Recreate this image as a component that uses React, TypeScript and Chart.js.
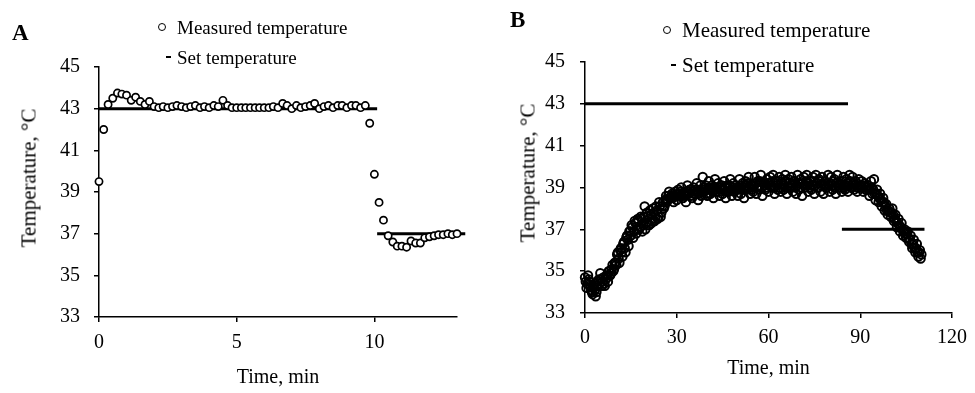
import React, { useEffect, useRef } from "react";
import { Chart, registerables } from "chart.js";

Chart.register(...registerables);

const FONT = '"Liberation Serif", "Times New Roman", Times, serif';

// ---------- Panel A ----------
const timeA: number[] = [
  0, 0.17, 0.33, 0.5, 0.67, 0.83,
  1, 1.17, 1.33, 1.5, 1.67, 1.83,
  2, 2.17, 2.33, 2.5, 2.67, 2.83,
  3, 3.17, 3.33, 3.5, 3.67, 3.83,
  4, 4.17, 4.33, 4.5, 4.67, 4.83,
  5, 5.17, 5.33, 5.5, 5.67, 5.83,
  6, 6.17, 6.33, 6.5, 6.67, 6.83,
  7, 7.17, 7.33, 7.5, 7.67, 7.83,
  8, 8.17, 8.33, 8.5, 8.67, 8.83,
  9, 9.17, 9.33, 9.5, 9.67, 9.83,
  10, 10.17, 10.33, 10.5, 10.67, 10.83,
  11, 11.17, 11.33, 11.5, 11.67, 11.83,
  12, 12.17, 12.33, 12.5, 12.67, 12.83,
  13,
];
const measuredA: number[] = [
  39.5, 42.0, 43.2, 43.5, 43.75, 43.7,
  43.65, 43.4, 43.55, 43.35, 43.2, 43.35,
  43.1, 43.05, 43.1, 43.05, 43.1, 43.15,
  43.1, 43.05, 43.1, 43.15, 43.05, 43.1,
  43.05, 43.15, 43.1, 43.4, 43.15, 43.05,
  43.05, 43.05, 43.05, 43.05, 43.05, 43.05,
  43.05, 43.05, 43.1, 43.05, 43.25, 43.15,
  43.0, 43.15, 43.05, 43.1, 43.15, 43.25,
  43.0, 43.1, 43.15, 43.05, 43.15, 43.15,
  43.05, 43.15, 43.15, 43.05, 43.15, 42.3,
  39.85, 38.5, 37.65, 36.9, 36.6, 36.4,
  36.4, 36.35, 36.65, 36.55, 36.55, 36.8,
  36.85, 36.9, 36.95, 36.95, 37.0, 36.95,
  37.0,
];
const setHighTimeA: number[] = [0, 10.1];
const setHighTempA = 43;
const setLowTimeA: number[] = [10.1, 13.3];
const setLowTempA = 37;

// ---------- Panel B ----------
const timeB: number[] = [
  0, 0.5, 1, 1.5, 2, 2.5, 3, 3.5, 4, 4.5,
  5, 5.5, 6, 6.5, 7, 7.5, 8, 8.5, 9, 9.5,
  10, 10.5, 11, 11.5, 12, 12.5, 13, 13.5, 14, 14.5,
  15, 15.5, 16, 16.5, 17, 17.5, 18, 18.5, 19, 19.5,
  20, 20.5, 21, 21.5, 22, 22.5, 23, 23.5, 24, 24.5,
  25, 25.5, 26, 26.5, 27, 27.5, 28, 28.5, 29, 29.5,
  30, 30.5, 31, 31.5, 32, 32.5, 33, 33.5, 34, 34.5,
  35, 35.5, 36, 36.5, 37, 37.5, 38, 38.5, 39, 39.5,
  40, 40.5, 41, 41.5, 42, 42.5, 43, 43.5, 44, 44.5,
  45, 45.5, 46, 46.5, 47, 47.5, 48, 48.5, 49, 49.5,
  50, 50.5, 51, 51.5, 52, 52.5, 53, 53.5, 54, 54.5,
  55, 55.5, 56, 56.5, 57, 57.5, 58, 58.5, 59, 59.5,
  60, 60.5, 61, 61.5, 62, 62.5, 63, 63.5, 64, 64.5,
  65, 65.5, 66, 66.5, 67, 67.5, 68, 68.5, 69, 69.5,
  70, 70.5, 71, 71.5, 72, 72.5, 73, 73.5, 74, 74.5,
  75, 75.5, 76, 76.5, 77, 77.5, 78, 78.5, 79, 79.5,
  80, 80.5, 81, 81.5, 82, 82.5, 83, 83.5, 84, 84.5,
  85, 85.5, 86, 86.5, 87, 87.5, 88, 88.5, 89, 89.5,
  90, 90.5, 91, 91.5, 92, 92.5, 93, 93.5, 94, 94.5,
  95, 95.5, 96, 96.5, 97, 97.5, 98, 98.5, 99, 99.5,
  100, 100.5, 101, 101.5, 102, 102.5, 103, 103.5, 104, 104.5,
  105, 105.5, 106, 106.5, 107, 107.5, 108, 108.5, 109, 109.5,
  110,
];
const measuredB: number[] = [
  34.7, 34.2, 34.8, 34.5, 34.1, 33.9, 34.4, 33.8, 34.3, 34.6,
  34.9, 34.3, 34.7, 34.3, 34.8, 34.5, 35.0, 34.9, 35.3, 35.1,
  35.4, 35.8, 35.6, 36.0, 35.9, 36.3, 36.1, 36.6, 36.5, 36.9,
  36.7, 37.1, 36.9, 37.3, 37.0, 37.4, 37.1, 37.5, 37.2, 38.1,
  37.3, 37.6, 37.2, 37.7, 37.4, 37.8, 37.5, 37.9, 37.6, 38.1,
  37.8, 38.3, 38.1, 38.6, 38.4, 38.8, 38.5, 38.7, 38.3, 38.8,
  38.4, 38.9, 38.6, 39.0, 38.5, 38.8, 38.3, 39.1, 38.7, 38.9,
  38.5, 39.0, 38.7, 39.2, 38.4, 38.9, 38.6, 39.5, 38.8, 39.1,
  38.6, 39.3, 38.7, 39.1, 38.5, 39.4, 38.8, 39.2, 38.6, 39.0,
  38.7, 39.3, 38.5, 39.1, 38.8, 39.4, 38.6, 39.2, 38.9, 39.0,
  38.6, 39.4, 38.7, 39.2, 38.5, 39.3, 38.9, 39.5, 38.7, 39.1,
  38.8, 39.5, 38.7, 39.3, 38.9, 39.6, 38.6, 39.2, 38.9, 39.4,
  38.8, 39.5, 39.0, 39.6, 38.7, 39.3, 38.9, 39.5, 38.8, 39.4,
  38.9, 39.6, 38.7, 39.4, 39.0, 39.5, 38.8, 39.3, 38.7, 39.6,
  38.9, 39.4, 38.6, 39.5, 39.0, 39.6, 38.8, 39.3, 38.9, 39.5,
  38.7, 39.6, 39.0, 39.4, 38.8, 39.5, 38.7, 39.3, 39.0, 39.6,
  38.8, 39.5, 38.9, 39.4, 38.7, 39.6, 39.0, 39.3, 38.8, 39.5,
  38.9, 39.4, 38.8, 39.6, 39.0, 39.5, 38.9, 39.3, 38.8, 39.4,
  39.0, 39.3, 38.8, 39.2, 38.9, 39.1, 38.6, 39.3, 38.7, 39.4,
  38.4, 38.9, 38.3, 38.7, 38.1, 38.5, 37.9, 38.2, 37.7, 38.0,
  37.6, 38.0, 37.4, 37.7, 37.1, 37.5, 36.9, 37.3, 36.7, 37.0,
  36.6, 36.9, 36.4, 36.7, 36.1, 36.5, 35.9, 36.3, 35.7, 36.0,
  35.8,
];
// readings taken in between the ones above
const timeB2: number[] = [
  0.25, 0.75, 1.25, 1.75, 2.25, 2.75, 3.25, 3.75, 4.25, 4.75,
  5.25, 5.75, 6.25, 6.75, 7.25, 7.75, 8.25, 8.75, 9.25, 9.75,
  10.25, 10.75, 11.25, 11.75, 12.25, 12.75, 13.25, 13.75, 14.25, 14.75,
  15.25, 15.75, 16.25, 16.75, 17.25, 17.75, 18.25, 18.75, 19.25, 19.75,
  20.25, 20.75, 21.25, 21.75, 22.25, 22.75, 23.25, 23.75, 24.25, 24.75,
  25.25, 25.75, 26.25, 26.75, 27.25, 27.75, 28.25, 28.75, 29.25, 29.75,
  30.25, 30.75, 31.25, 31.75, 32.25, 32.75, 33.25, 33.75, 34.25, 34.75,
  35.25, 35.75, 36.25, 36.75, 37.25, 37.75, 38.25, 38.75, 39.25, 39.75,
  40.25, 40.75, 41.25, 41.75, 42.25, 42.75, 43.25, 43.75, 44.25, 44.75,
  45.25, 45.75, 46.25, 46.75, 47.25, 47.75, 48.25, 48.75, 49.25, 49.75,
  50.25, 50.75, 51.25, 51.75, 52.25, 52.75, 53.25, 53.75, 54.25, 54.75,
  55.25, 55.75, 56.25, 56.75, 57.25, 57.75, 58.25, 58.75, 59.25, 59.75,
  60.25, 60.75, 61.25, 61.75, 62.25, 62.75, 63.25, 63.75, 64.25, 64.75,
  65.25, 65.75, 66.25, 66.75, 67.25, 67.75, 68.25, 68.75, 69.25, 69.75,
  70.25, 70.75, 71.25, 71.75, 72.25, 72.75, 73.25, 73.75, 74.25, 74.75,
  75.25, 75.75, 76.25, 76.75, 77.25, 77.75, 78.25, 78.75, 79.25, 79.75,
  80.25, 80.75, 81.25, 81.75, 82.25, 82.75, 83.25, 83.75, 84.25, 84.75,
  85.25, 85.75, 86.25, 86.75, 87.25, 87.75, 88.25, 88.75, 89.25, 89.75,
  90.25, 90.75, 91.25, 91.75, 92.25, 92.75, 93.25, 93.75, 94.25, 94.75,
  95.25, 95.75, 96.25, 96.75, 97.25, 97.75, 98.25, 98.75, 99.25, 99.75,
  100.25, 100.75, 101.25, 101.75, 102.25, 102.75, 103.25, 103.75, 104.25, 104.75,
  105.25, 105.75, 106.25, 106.75, 107.25, 107.75, 108.25, 108.75, 109.25, 109.75,
];
const measuredB2: number[] = [
  34.5, 34.4, 34.6, 34.3, 34.0, 34.2, 34.1, 34.0, 34.5, 34.4,
  34.6, 34.5, 34.4, 34.6, 34.7, 35.0, 34.8, 35.1, 35.0, 35.4,
  35.3, 35.9, 35.4, 36.1, 35.7, 36.4, 35.9, 36.7, 36.2, 36.9,
  37.2, 36.6, 37.4, 36.8, 37.5, 37.0, 37.6, 36.9, 37.6, 37.0,
  37.8, 37.2, 37.9, 37.3, 38.0, 37.4, 38.1, 37.5, 38.3, 37.6,
  38.1, 38.0, 38.4, 38.3, 38.6, 38.5, 38.6, 38.5, 38.6, 38.6,
  38.7, 38.7, 38.8, 38.6, 38.7, 38.6, 38.7, 38.8, 38.9, 38.6,
  38.8, 38.7, 38.9, 38.8, 38.7, 39.1, 38.8, 38.9, 39.0, 38.7,
  38.9, 39.0, 38.9, 38.8, 39.0, 38.9, 39.0, 38.8, 38.9, 39.1,
  38.9, 39.0, 38.8, 39.0, 39.1, 38.9, 39.0, 38.8, 39.1, 38.9,
  39.0, 38.9, 39.1, 39.0, 38.9, 39.1, 39.2, 39.0, 39.1, 38.9,
  39.1, 39.2, 39.0, 39.1, 39.3, 39.0, 39.2, 39.1, 39.0, 39.2,
  39.2, 39.1, 39.3, 39.0, 39.2, 39.1, 39.3, 39.0, 39.2, 39.1,
  39.1, 39.3, 39.0, 39.2, 39.1, 39.2, 39.3, 39.0, 39.1, 39.2,
  39.2, 39.0, 39.2, 39.1, 39.3, 39.1, 39.2, 39.0, 39.1, 39.3,
  39.1, 39.2, 39.0, 39.3, 39.1, 39.2, 39.1, 39.0, 39.2, 39.1,
  39.2, 39.1, 39.3, 39.0, 39.2, 39.1, 39.2, 39.1, 39.3, 39.0,
  39.1, 39.2, 39.1, 39.3, 39.0, 39.2, 39.1, 39.2, 39.0, 39.1,
  39.1, 39.0, 39.1, 38.9, 39.0, 38.9, 38.9, 39.0, 38.9, 38.7,
  38.7, 38.6, 38.5, 38.4, 38.3, 38.3, 38.1, 37.9, 37.9, 37.8,
  37.8, 37.7, 37.5, 37.4, 37.3, 37.2, 37.1, 37.0, 36.9, 36.8,
  36.8, 36.6, 36.5, 36.3, 36.3, 36.1, 36.1, 35.9, 35.9, 35.6,
];
const setHighTimeB: number[] = [0, 86];
const setHighTempB = 43;
const setLowTimeB: number[] = [84, 111];
const setLowTempB = 37;

// ---------- Axis settings ----------
const yTicksTemp: number[] = [33, 35, 37, 39, 41, 43, 45];
const xTicksA: number[] = [0, 5, 10];
const xTicksB: number[] = [0, 30, 60, 90, 120];

const X_TITLE = "Time, min";
const Y_TITLE = "Temperature, \u00B0C";
const LEGEND_MEASURED = "Measured temperature";
const LEGEND_SET = "Set temperature";

type PanelOpts = {
  series: { times: number[]; values: number[] }[];
  highTimes: number[];
  highTemp: number;
  lowTimes: number[];
  lowTemp: number;
  xMax: number;
  xTicks: number[];
  yWidth: number;
  xHeight: number;
  padTop: number;
  padRight: number;
  yTickPad: number;
  xTickPad: number;
  xTitlePad: number;
  pointRadius: number;
  pointBorder: number;
  pointFill: string;
  fontSize: number;
};

function buildConfig(o: PanelOpts): any {
  const font = { family: FONT, size: o.fontSize };
  const lineDs = (times: number[], temp: number) => ({
    type: "line" as const,
    data: times.map((t) => ({ x: t, y: temp })),
    showLine: true,
    borderColor: "#000",
    borderWidth: 3,
    borderCapStyle: "butt",
    pointRadius: 0,
    fill: false,
    clip: false as any,
  });
  const pointDs = o.series.map((s) => ({
    data: s.times.map((t, i) => ({ x: t, y: s.values[i] })),
    showLine: false,
    pointStyle: "circle",
    pointRadius: o.pointRadius,
    pointBorderWidth: o.pointBorder,
    pointBorderColor: "#000",
    pointBackgroundColor: o.pointFill,
    clip: false as any,
  }));
  return {
    type: "scatter",
    data: {
      datasets: [...pointDs, lineDs(o.highTimes, o.highTemp), lineDs(o.lowTimes, o.lowTemp)],
    },
    options: {
      responsive: false,
      animation: false,
      events: [],
      layout: { padding: { top: o.padTop, right: o.padRight, left: 0, bottom: 0 } },
      plugins: { legend: { display: false }, tooltip: { enabled: false } },
      scales: {
        x: {
          type: "linear",
          min: 0,
          max: o.xMax,
          afterBuildTicks: (s: any) => {
            s.ticks = o.xTicks.map((v) => ({ value: v }));
          },
          ticks: { font, color: "#000", padding: o.xTickPad, maxRotation: 0, autoSkip: false },
          grid: {
            display: true,
            drawOnChartArea: false,
            drawTicks: true,
            tickLength: 5,
            color: "#000",
            lineWidth: 1.5,
          },
          border: { display: true, color: "#000", width: 1.5 },
          title: {
            display: true,
            text: X_TITLE,
            font,
            color: "#000",
            padding: { top: 0, bottom: o.xTitlePad },
          },
          afterFit: (s: any) => {
            s.height = o.xHeight;
          },
        },
        y: {
          type: "linear",
          min: 33,
          max: 45,
          afterBuildTicks: (s: any) => {
            s.ticks = yTicksTemp.map((v) => ({ value: v }));
          },
          ticks: { font, color: "#000", padding: o.yTickPad, autoSkip: false },
          grid: {
            display: true,
            drawOnChartArea: false,
            drawTicks: true,
            tickLength: 5,
            color: "#000",
            lineWidth: 1.5,
          },
          border: { display: true, color: "#000", width: 1.5 },
          title: { display: false },
          afterFit: (s: any) => {
            s.width = o.yWidth;
          },
        },
      },
    },
  };
}

function ChartCanvas({ config, width, height }: { config: any; width: number; height: number }) {
  const ref = useRef<HTMLCanvasElement>(null);
  useEffect(() => {
    const chart = new Chart(ref.current as HTMLCanvasElement, config);
    return () => chart.destroy();
  }, []);
  return <canvas ref={ref} width={width} height={height} style={{ display: "block", width, height }} />;
}

const abs = (s: React.CSSProperties): React.CSSProperties => ({ position: "absolute", ...s });

function Legend({ left, cy1, cy2, size }: { left: number; cy1: number; cy2: number; size: number }) {
  const text: React.CSSProperties = {
    fontFamily: FONT,
    fontSize: size,
    lineHeight: `${size}px`,
    whiteSpace: "nowrap",
    color: "#000",
  };
  return (
    <>
      <div
        style={abs({
          left: left - 15 - 4,
          top: cy1 - 4,
          width: 8,
          height: 8,
          boxSizing: "border-box",
          border: "1.6px solid #000",
          borderRadius: "50%",
          background: "#fff",
        })}
      />
      <div style={abs({ left, top: cy1 - size / 2, ...text })}>{LEGEND_MEASURED}</div>
      <div style={abs({ left: left - 11, top: cy2 - 1.25, width: 5, height: 2.5, background: "#000" })} />
      <div style={abs({ left, top: cy2 - size / 2, ...text })}>{LEGEND_SET}</div>
    </>
  );
}

function YTitle({ cx, cy, size }: { cx: number; cy: number; size: number }) {
  return (
    <div
      style={abs({
        left: cx,
        top: cy,
        transform: "translate(-50%, -50%) rotate(-90deg)",
        fontFamily: FONT,
        fontSize: size,
        lineHeight: `${size}px`,
        whiteSpace: "nowrap",
        color: "#000",
      })}
    >
      {Y_TITLE}
    </div>
  );
}

export default function App() {
  const cfgA = buildConfig({
    series: [{ times: timeA, values: measuredA }],
    highTimes: setHighTimeA,
    highTemp: setHighTempA,
    lowTimes: setLowTimeA,
    lowTemp: setLowTempA,
    xMax: 13,
    xTicks: xTicksA,
    yWidth: 99,
    xHeight: 76,
    padTop: 67,
    padRight: 33,
    yTickPad: 14,
    xTickPad: 9,
    xTitlePad: 3,
    pointRadius: 3.6,
    pointBorder: 1.7,
    pointFill: "#fff",
    fontSize: 20,
  });
  const cfgB = buildConfig({
    series: [
      { times: timeB, values: measuredB },
      { times: timeB2, values: measuredB2 },
    ],
    highTimes: setHighTimeB,
    highTemp: setHighTempB,
    lowTimes: setLowTimeB,
    lowTemp: setLowTempB,
    xMax: 120,
    xTicks: xTicksB,
    yWidth: 95,
    xHeight: 80,
    padTop: 62,
    padRight: 22,
    yTickPad: 15,
    xTickPad: 8,
    xTitlePad: 12,
    pointRadius: 4.2,
    pointBorder: 2,
    pointFill: "rgba(255,255,255,0)",
    fontSize: 20,
  });
  return (
    <div style={abs({ left: 0, top: 0, width: 975, height: 393, background: "#fff", overflow: "hidden" })}>
      <div style={abs({ left: 0, top: 0 })}>
        <ChartCanvas config={cfgA} width={490} height={393} />
      </div>
      <div style={abs({ left: 490, top: 0 })}>
        <ChartCanvas config={cfgB} width={485} height={393} />
      </div>
      <div style={abs({ left: 12, top: 21, fontFamily: FONT, fontWeight: "bold", fontSize: 23, lineHeight: "23px" })}>A</div>
      <div style={abs({ left: 510, top: 8, fontFamily: FONT, fontWeight: "bold", fontSize: 23, lineHeight: "23px" })}>B</div>
      <Legend left={177} cy1={27} cy2={57} size={19} />
      <Legend left={682} cy1={30} cy2={65} size={21} />
      <YTitle cx={29} cy={178} size={21} />
      <YTitle cx={528} cy={173} size={21} />
    </div>
  );
}
